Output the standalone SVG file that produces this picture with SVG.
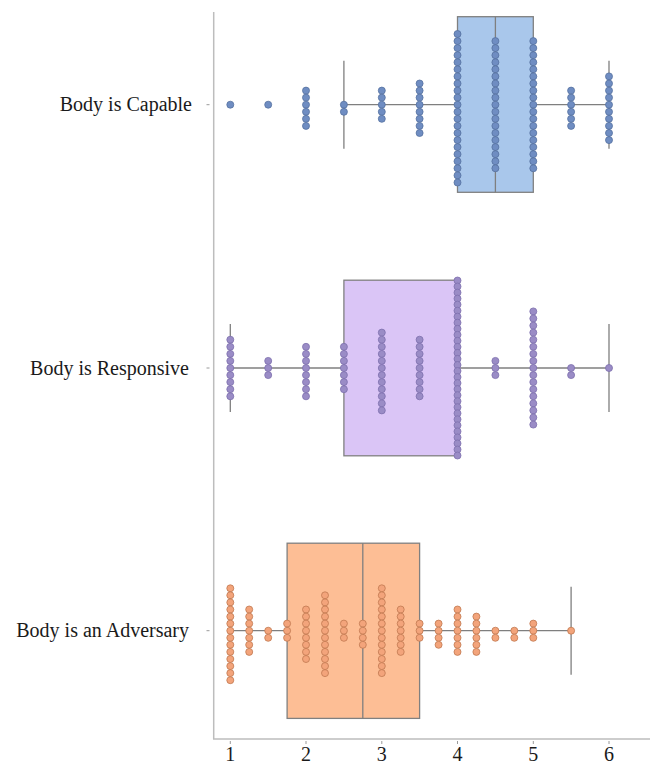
<svg xmlns="http://www.w3.org/2000/svg" width="652" height="766" viewBox="0 0 652 766">
<style>
.lbl{font-family:"Liberation Serif","Times New Roman",serif;font-size:20px;fill:#1a1a1a}
.tick{font-family:"Liberation Serif","Times New Roman",serif;font-size:20px;fill:#1a1a1a;text-anchor:middle}
.axis{stroke:#bdbdbd;stroke-width:1.5;fill:none}
.tk{stroke:#9a9a9a;stroke-width:1}
.box{stroke:#808080;stroke-width:1.3}
.wh{stroke:#7f7f7f;stroke-width:1.3;fill:none}
.dots circle{r:3.5px;stroke-width:0.8}
.d1 circle{fill:#6f8dc2;stroke:#55719f}
.d2 circle{fill:#9a8cc6;stroke:#7e70ad}
.d3 circle{fill:#f3a47b;stroke:#c07850}
</style>

<g id="axes">
<line class="axis" x1="213.7" y1="12" x2="213.7" y2="739"/>
<line class="axis" x1="213" y1="739" x2="650" y2="739"/>
<g class="tk">
<line x1="230.3" y1="741" x2="230.3" y2="744"/>
<line x1="306" y1="741" x2="306" y2="744"/>
<line x1="381.8" y1="741" x2="381.8" y2="744"/>
<line x1="457.5" y1="741" x2="457.5" y2="744"/>
<line x1="533.3" y1="741" x2="533.3" y2="744"/>
<line x1="609" y1="741" x2="609" y2="744"/>
<line x1="206.5" y1="104.7" x2="209.5" y2="104.7"/>
<line x1="206.5" y1="368" x2="209.5" y2="368"/>
<line x1="206.5" y1="630.7" x2="209.5" y2="630.7"/>
</g>
<text class="tick" x="230.3" y="761">1</text>
<text class="tick" x="306" y="761">2</text>
<text class="tick" x="381.8" y="761">3</text>
<text class="tick" x="457.5" y="761">4</text>
<text class="tick" x="533.3" y="761">5</text>
<text class="tick" x="609" y="761">6</text>
</g>

<g id="row-capable">
<text class="lbl" x="192" y="111" text-anchor="end">Body is Capable</text>
<rect class="box" x="457.5" y="16.7" width="75.8" height="175.6" fill="#a9c7eb"/>
<g class="wh">
<line x1="495.4" y1="16.7" x2="495.4" y2="192.3"/>
<line x1="343.9" y1="104.7" x2="457.5" y2="104.7"/>
<line x1="533.3" y1="104.7" x2="609" y2="104.7"/>
<line x1="343.9" y1="60.7" x2="343.9" y2="148.7"/>
<line x1="609" y1="60.7" x2="609" y2="148.7"/>
</g>
<g class="dots d1">
<g transform="translate(230.3,104.7)"><circle cy="0"/></g>
<g transform="translate(268.2,104.7)"><circle cy="0"/></g>
<g transform="translate(306,104.7)"><circle cy="-14.1"/><circle cy="-7.1"/><circle cy="0"/><circle cy="7.1"/><circle cy="14.1"/><circle cy="21.2"/></g>
<g transform="translate(343.9,104.7)"><circle cy="0"/><circle cy="7.1"/></g>
<g transform="translate(381.8,104.7)"><circle cy="-14.1"/><circle cy="-7.1"/><circle cy="0"/><circle cy="7.1"/><circle cy="14.1"/></g>
<g transform="translate(419.6,104.7)"><circle cy="-21.2"/><circle cy="-14.1"/><circle cy="-7.1"/><circle cy="0"/><circle cy="7.1"/><circle cy="14.1"/><circle cy="21.2"/><circle cy="28.3"/></g>
<g transform="translate(457.5,104.7)"><circle cy="-70.7"/><circle cy="-63.6"/><circle cy="-56.6"/><circle cy="-49.5"/><circle cy="-42.4"/><circle cy="-35.4"/><circle cy="-28.3"/><circle cy="-21.2"/><circle cy="-14.1"/><circle cy="-7.1"/><circle cy="0"/><circle cy="7.1"/><circle cy="14.1"/><circle cy="21.2"/><circle cy="28.3"/><circle cy="35.4"/><circle cy="42.4"/><circle cy="49.5"/><circle cy="56.6"/><circle cy="63.6"/><circle cy="70.7"/><circle cy="77.8"/></g>
<g transform="translate(495.4,104.7)"><circle cy="-63.6"/><circle cy="-56.6"/><circle cy="-49.5"/><circle cy="-42.4"/><circle cy="-35.4"/><circle cy="-28.3"/><circle cy="-21.2"/><circle cy="-14.1"/><circle cy="-7.1"/><circle cy="0"/><circle cy="7.1"/><circle cy="14.1"/><circle cy="21.2"/><circle cy="28.3"/><circle cy="35.4"/><circle cy="42.4"/><circle cy="49.5"/><circle cy="56.6"/><circle cy="63.6"/></g>
<g transform="translate(533.3,104.7)"><circle cy="-63.6"/><circle cy="-56.6"/><circle cy="-49.5"/><circle cy="-42.4"/><circle cy="-35.4"/><circle cy="-28.3"/><circle cy="-21.2"/><circle cy="-14.1"/><circle cy="-7.1"/><circle cy="0"/><circle cy="7.1"/><circle cy="14.1"/><circle cy="21.2"/><circle cy="28.3"/><circle cy="35.4"/><circle cy="42.4"/><circle cy="49.5"/><circle cy="56.6"/><circle cy="63.6"/></g>
<g transform="translate(571.1,104.7)"><circle cy="-14.1"/><circle cy="-7.1"/><circle cy="0"/><circle cy="7.1"/><circle cy="14.1"/><circle cy="21.2"/></g>
<g transform="translate(609,104.7)"><circle cy="-28.3"/><circle cy="-21.2"/><circle cy="-14.1"/><circle cy="-7.1"/><circle cy="0"/><circle cy="7.1"/><circle cy="14.1"/><circle cy="21.2"/><circle cy="28.3"/><circle cy="35.4"/></g>
</g>
</g>

<g id="row-responsive">
<text class="lbl" x="189" y="375" text-anchor="end">Body is Responsive</text>
<rect class="box" x="343.9" y="280.2" width="113.6" height="175.6" fill="#dac5f6"/>
<g class="wh">
<line x1="230.3" y1="368" x2="343.9" y2="368"/>
<line x1="457.5" y1="368" x2="609" y2="368"/>
<line x1="230.3" y1="324" x2="230.3" y2="412"/>
<line x1="609" y1="324" x2="609" y2="412"/>
</g>
<g class="dots d2">
<g transform="translate(230.3,368)"><circle cy="-28.3"/><circle cy="-21.2"/><circle cy="-14.1"/><circle cy="-7.1"/><circle cy="0"/><circle cy="7.1"/><circle cy="14.1"/><circle cy="21.2"/><circle cy="28.3"/></g>
<g transform="translate(268.2,368)"><circle cy="-7.1"/><circle cy="0"/><circle cy="7.1"/></g>
<g transform="translate(306,368)"><circle cy="-21.2"/><circle cy="-14.1"/><circle cy="-7.1"/><circle cy="0"/><circle cy="7.1"/><circle cy="14.1"/><circle cy="21.2"/><circle cy="28.3"/></g>
<g transform="translate(343.9,368)"><circle cy="-21.2"/><circle cy="-14.1"/><circle cy="-7.1"/><circle cy="0"/><circle cy="7.1"/><circle cy="14.1"/><circle cy="21.2"/></g>
<g transform="translate(381.8,368)"><circle cy="-35.4"/><circle cy="-28.3"/><circle cy="-21.2"/><circle cy="-14.1"/><circle cy="-7.1"/><circle cy="0"/><circle cy="7.1"/><circle cy="14.1"/><circle cy="21.2"/><circle cy="28.3"/><circle cy="35.4"/><circle cy="42.4"/></g>
<g transform="translate(419.6,368)"><circle cy="-28.3"/><circle cy="-21.2"/><circle cy="-14.1"/><circle cy="-7.1"/><circle cy="0"/><circle cy="7.1"/><circle cy="14.1"/><circle cy="21.2"/><circle cy="28.3"/></g>
<g transform="translate(457.5,368)"><circle cy="-87.5"/><circle cy="-81.5"/><circle cy="-75.4"/><circle cy="-69.4"/><circle cy="-63.4"/><circle cy="-57.3"/><circle cy="-51.3"/><circle cy="-45.3"/><circle cy="-39.2"/><circle cy="-33.2"/><circle cy="-27.2"/><circle cy="-21.1"/><circle cy="-15.1"/><circle cy="-9.1"/><circle cy="-3"/><circle cy="3"/><circle cy="9.1"/><circle cy="15.1"/><circle cy="21.1"/><circle cy="27.2"/><circle cy="33.2"/><circle cy="39.2"/><circle cy="45.3"/><circle cy="51.3"/><circle cy="57.3"/><circle cy="63.4"/><circle cy="69.4"/><circle cy="75.4"/><circle cy="81.5"/><circle cy="87.5"/></g>
<g transform="translate(495.4,368)"><circle cy="-7.1"/><circle cy="0"/><circle cy="7.1"/></g>
<g transform="translate(533.3,368)"><circle cy="-56.6"/><circle cy="-49.5"/><circle cy="-42.4"/><circle cy="-35.4"/><circle cy="-28.3"/><circle cy="-21.2"/><circle cy="-14.1"/><circle cy="-7.1"/><circle cy="0"/><circle cy="7.1"/><circle cy="14.1"/><circle cy="21.2"/><circle cy="28.3"/><circle cy="35.4"/><circle cy="42.4"/><circle cy="49.5"/><circle cy="56.6"/></g>
<g transform="translate(571.1,368)"><circle cy="0"/><circle cy="7.1"/></g>
<g transform="translate(609,368)"><circle cy="0"/></g>
</g>
</g>

<g id="row-adversary">
<text class="lbl" x="189" y="637" text-anchor="end">Body is an Adversary</text>
<rect class="box" x="287.1" y="543.2" width="132.5" height="175.2" fill="#fdbe95"/>
<g class="wh">
<line x1="362.8" y1="543.2" x2="362.8" y2="718.4"/>
<line x1="230.3" y1="630.7" x2="287.1" y2="630.7"/>
<line x1="419.6" y1="630.7" x2="571.1" y2="630.7"/>
<line x1="230.3" y1="586.7" x2="230.3" y2="674.7"/>
<line x1="571.1" y1="586.7" x2="571.1" y2="674.7"/>
</g>
<g class="dots d3">
<g transform="translate(230.3,630.7)"><circle cy="-42.4"/><circle cy="-35.4"/><circle cy="-28.3"/><circle cy="-21.2"/><circle cy="-14.1"/><circle cy="-7.1"/><circle cy="0"/><circle cy="7.1"/><circle cy="14.1"/><circle cy="21.2"/><circle cy="28.3"/><circle cy="35.4"/><circle cy="42.4"/><circle cy="49.5"/></g>
<g transform="translate(249.2,630.7)"><circle cy="-21.2"/><circle cy="-14.1"/><circle cy="-7.1"/><circle cy="0"/><circle cy="7.1"/><circle cy="14.1"/><circle cy="21.2"/></g>
<g transform="translate(268.2,630.7)"><circle cy="0"/><circle cy="7.1"/></g>
<g transform="translate(287.1,630.7)"><circle cy="-7.1"/><circle cy="0"/><circle cy="7.1"/></g>
<g transform="translate(306,630.7)"><circle cy="-21.2"/><circle cy="-14.1"/><circle cy="-7.1"/><circle cy="0"/><circle cy="7.1"/><circle cy="14.1"/><circle cy="21.2"/><circle cy="28.3"/></g>
<g transform="translate(325,630.7)"><circle cy="-35.4"/><circle cy="-28.3"/><circle cy="-21.2"/><circle cy="-14.1"/><circle cy="-7.1"/><circle cy="0"/><circle cy="7.1"/><circle cy="14.1"/><circle cy="21.2"/><circle cy="28.3"/><circle cy="35.4"/><circle cy="42.4"/></g>
<g transform="translate(343.9,630.7)"><circle cy="-7.1"/><circle cy="0"/><circle cy="7.1"/></g>
<g transform="translate(362.8,630.7)"><circle cy="-7.1"/><circle cy="0"/><circle cy="7.1"/><circle cy="14.1"/></g>
<g transform="translate(381.8,630.7)"><circle cy="-42.4"/><circle cy="-35.4"/><circle cy="-28.3"/><circle cy="-21.2"/><circle cy="-14.1"/><circle cy="-7.1"/><circle cy="0"/><circle cy="7.1"/><circle cy="14.1"/><circle cy="21.2"/><circle cy="28.3"/><circle cy="35.4"/><circle cy="42.4"/></g>
<g transform="translate(400.7,630.7)"><circle cy="-21.2"/><circle cy="-14.1"/><circle cy="-7.1"/><circle cy="0"/><circle cy="7.1"/><circle cy="14.1"/><circle cy="21.2"/></g>
<g transform="translate(419.6,630.7)"><circle cy="-7.1"/><circle cy="0"/><circle cy="7.1"/></g>
<g transform="translate(438.6,630.7)"><circle cy="-7.1"/><circle cy="0"/><circle cy="7.1"/><circle cy="14.1"/></g>
<g transform="translate(457.5,630.7)"><circle cy="-21.2"/><circle cy="-14.1"/><circle cy="-7.1"/><circle cy="0"/><circle cy="7.1"/><circle cy="14.1"/><circle cy="21.2"/></g>
<g transform="translate(476.4,630.7)"><circle cy="-14.1"/><circle cy="-7.1"/><circle cy="0"/><circle cy="7.1"/><circle cy="14.1"/><circle cy="21.2"/></g>
<g transform="translate(495.4,630.7)"><circle cy="0"/><circle cy="7.1"/></g>
<g transform="translate(514.3,630.7)"><circle cy="0"/><circle cy="7.1"/></g>
<g transform="translate(533.3,630.7)"><circle cy="-7.1"/><circle cy="0"/><circle cy="7.1"/></g>
<g transform="translate(571.1,630.7)"><circle cy="0"/></g>
</g>
</g>
</svg>
